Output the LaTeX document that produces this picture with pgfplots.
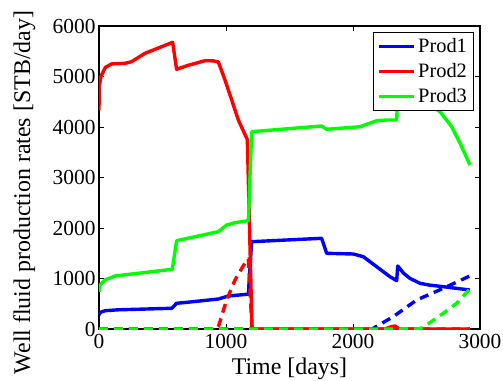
\documentclass[border=0pt]{standalone}
\usepackage{fontspec}
\setmainfont{Liberation Serif}
\usepackage{pgfplots}
\pgfplotsset{compat=1.18}

\definecolor{pblue}{RGB}{0,0,255}
\definecolor{pred}{RGB}{255,0,0}
\definecolor{pgreen}{RGB}{0,255,0}

\begin{document}
\begin{tikzpicture}
\useasboundingbox (-99bp,-52bp) rectangle (404bp,329bp);
\begin{axis}[
  at={(0,0)}, anchor=south west,
  scale only axis, width=381bp, height=303bp,
  xmin=0, xmax=3000, ymin=0, ymax=6000,
  xtick={0,1000,2000,3000}, ytick={0,1000,...,6000},
  tick align=inside, major tick length=5bp,
  axis line style={line width=1.1bp},
  every tick/.style={black, line width=0.9bp},
  /pgf/number format/assume math mode=true,
  /pgf/number format/1000 sep={},
  tick label style={font=\fontsize{21.5}{24}\selectfont},
  xticklabel style={yshift=-2bp},
  label style={font=\fontsize{24}{28}\selectfont},
  xlabel={Time [days]},
  ylabel={Well fluid production rates [STB/day]},
  xlabel style={at={(axis description cs:0.5,-0.1518)}, anchor=base},
  ylabel style={at={(axis description cs:-0.181,0.4505)}, anchor=base, rotate=0},
  legend style={at={(1,1)}, anchor=north east, xshift=-6bp, yshift=-6bp,
    draw=black, line width=0.9bp, fill=white,
    font=\fontsize{20.5}{24}\selectfont, row sep=2bp,
    inner xsep=4.6bp, inner ysep=2.7bp,
    nodes={text height=15bp, text depth=4bp, inner ysep=2bp, inner xsep=2bp}},
  legend cell align=left,
  legend image code/.code={\draw[#1] (0bp,0bp) -- (35bp,0bp);},
  every axis plot/.append style={line width=3.4bp, line join=round},
]
% oil rates (solid)
\addplot[pblue] coordinates {
 (0,277) (10,330) (47,362) (150,380) (572,410) (611,509) (700,530) (940,594)
 (1018,653) (1176,690) (1202,1729) (1753,1796) (1793,1499) (2003,1485)
 (2081,1432) (2291,1036) (2344,956) (2352,1248) (2400,1100) (2450,1000)
 (2528,905) (2600,870) (2711,838) (2920,772)};
\addlegendentry{Prod1}
\addplot[pred] coordinates {
 (0,4337) (2,4800) (15,5000) (50,5180) (100,5250) (205,5260) (257,5294)
 (362,5459) (580,5677) (611,5143) (700,5220) (835,5313) (900,5310)
 (940,5287) (992,4931) (1045,4535) (1097,4139) (1168,3750) (1205,0)
 (2250,0) (2300,45) (2331,60) (2365,0) (2920,0)};
\addlegendentry{Prod2}
\addplot[pgreen] coordinates {
 (0,739) (10,880) (47,970) (126,1050) (577,1182) (611,1749) (940,1927)
 (1005,2059) (1071,2105) (1176,2145) (1202,3907) (1753,4020) (1793,3954)
 (2055,4006) (2187,4125) (2265,4138) (2344,4138) (2352,4650) (2500,4560)
 (2600,4440) (2685,4303) (2777,4006) (2843,3677) (2921,3248)};
\addlegendentry{Prod3}
% water rates (dashed)
\addplot[pblue, dash pattern=on 9bp off 6bp, forget plot] coordinates {
 (0,0) (2150,0) (2173,34) (2317,244) (2501,574) (2711,806) (2920,1050)};
\addplot[pred, dash pattern=on 9bp off 6bp, forget plot] coordinates {
 (0,0) (920,0) (940,45) (1005,574) (1071,970) (1163,1366) (1176,1390)
 (1205,0) (2920,0)};
\addplot[pgreen, dash pattern=on 9bp off 6bp, forget plot] coordinates {
 (0,0) (2520,0) (2554,34) (2711,311) (2816,509) (2920,790)};
\end{axis}
\end{tikzpicture}
\end{document}
